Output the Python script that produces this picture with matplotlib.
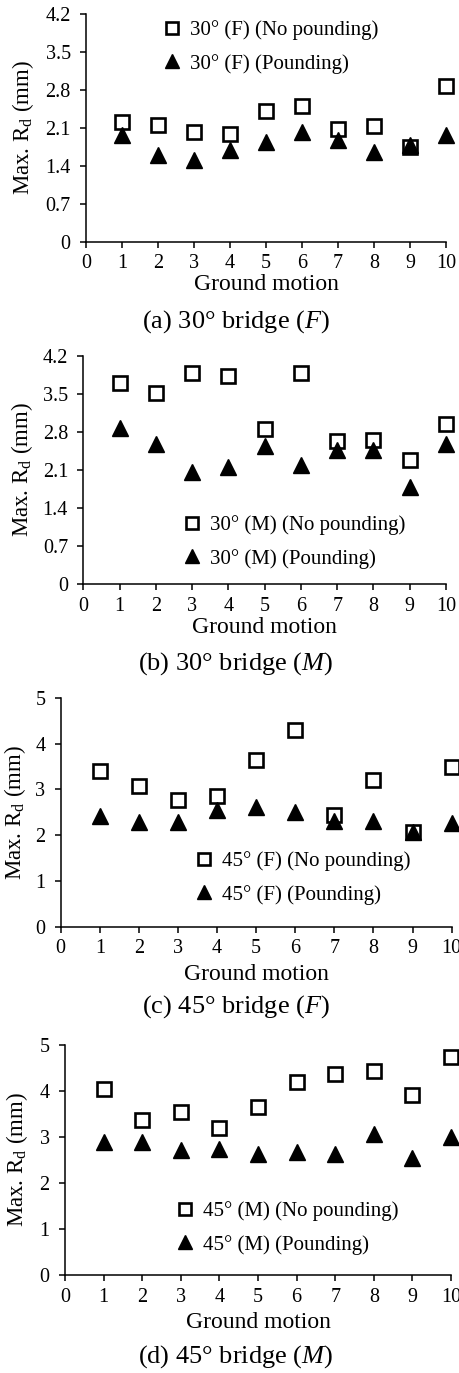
import matplotlib
matplotlib.use("Agg")
import matplotlib.pyplot as plt

plt.rcParams["font.family"] = ["Liberation Serif", "DejaVu Serif"]
plt.rcParams["mathtext.fontset"] = "custom"
plt.rcParams["mathtext.rm"] = "Liberation Serif"
plt.rcParams["mathtext.it"] = "Liberation Serif:italic"

motions = [1, 2, 3, 4, 5, 6, 7, 8, 9, 10]
xticks = [0, 1, 2, 3, 4, 5, 6, 7, 8, 9, 10]

a_nopound = [2.20, 2.15, 2.03, 1.99, 2.41, 2.50, 2.07, 2.13, 1.75, 2.88]
a_pound = [1.97, 1.60, 1.51, 1.69, 1.83, 2.03, 1.88, 1.65, 1.78, 1.97]
b_nopound = [3.70, 3.51, 3.88, 3.84, 2.85, 3.88, 2.63, 2.65, 2.28, 2.94]
b_pound = [2.87, 2.58, 2.07, 2.16, 2.54, 2.20, 2.47, 2.47, 1.79, 2.57]
c_nopound = [3.40, 3.08, 2.78, 2.86, 3.64, 4.30, 2.44, 3.21, 2.06, 3.50]
c_pound = [2.43, 2.29, 2.29, 2.55, 2.61, 2.51, 2.30, 2.30, 2.06, 2.26]
d_nopound = [4.04, 3.36, 3.55, 3.19, 3.66, 4.20, 4.36, 4.43, 3.91, 4.73]
d_pound = [2.89, 2.89, 2.71, 2.75, 2.64, 2.67, 2.62, 3.07, 2.54, 2.99]

yticks_30 = [0, 0.7, 1.4, 2.1, 2.8, 3.5, 4.2]
ylabels_30 = ["0", "0.7", "1.4", "2.1", "2.8", "3.5", "4.2"]
yticks_45 = [0, 1, 2, 3, 4, 5]
ylabels_45 = ["0", "1", "2", "3", "4", "5"]

W, H = 460, 1373
fig = plt.figure(figsize=(W / 100, H / 100), dpi=100)

# panel layout in pixels: x0, x10, ybottom, ytop, legend handle-left, legend mid-y, ylabel x, xlabel y, caption y
panels = [
    dict(box=(86, 446, 241.7, 14), ny=a_nopound, p=a_pound, yt=yticks_30, yl=ylabels_30,
         leg=(164, 47), name="30° (F)", cap="(a) 30° bridge ($\\mathit{F}$)", ylx=23, xly=285, capy=322),
    dict(box=(83.3, 446, 584, 356), ny=b_nopound, p=b_pound, yt=yticks_30, yl=ylabels_30,
         leg=(184, 542), name="30° (M)", cap="(b) 30° bridge ($\\mathit{M}$)", ylx=22, xly=627, capy=664),
    dict(box=(60.7, 451.7, 926.7, 698), ny=c_nopound, p=c_pound, yt=yticks_45, yl=ylabels_45,
         leg=(196, 878), name="45° (F)", cap="(c) 45° bridge ($\\mathit{F}$)", ylx=15, xly=975, capy=1007),
    dict(box=(65, 451, 1275, 1045), ny=d_nopound, p=d_pound, yt=yticks_45, yl=ylabels_45,
         leg=(177, 1228), name="45° (M)", cap="(d) 45° bridge ($\\mathit{M}$)", ylx=17, xly=1323, capy=1357),
]

for pn in panels:
    x0, x1, yb, ytp = pn["box"]
    ax = fig.add_axes([x0 / W, 1 - yb / H, (x1 - x0) / W, (yb - ytp) / H])
    ax.plot(motions, pn["ny"], linestyle="none", marker="s", markersize=10.5,
            markerfacecolor="white", markeredgecolor="black", markeredgewidth=1.9,
            clip_on=False, label=pn["name"] + " (No pounding)")
    ax.plot(motions, pn["p"], linestyle="none", marker="^", markersize=12,
            color="black", clip_on=False, label=pn["name"] + " (Pounding)")
    ax.set_xlim(0, 10)
    ax.set_ylim(pn["yt"][0], pn["yt"][-1])
    ax.set_xticks(xticks)
    ax.set_yticks(pn["yt"])
    ax.set_yticklabels(pn["yl"])
    for s in ["top", "right"]:
        ax.spines[s].set_visible(False)
    for s in ["left", "bottom"]:
        ax.spines[s].set_linewidth(1.1)
    ax.tick_params(direction="out", length=4, width=1.1, labelsize=14.5, pad=5)
    ax.tick_params(axis="y", pad=7)

    ax.set_ylabel("Max. R$_{\\mathregular{d}}$ (mm)", fontsize=16.5)
    ax.yaxis.set_label_coords((pn["ylx"] - x0) / (x1 - x0), 0.5)
    ax.yaxis.label.set_va("center")
    ax.set_xlabel("Ground motion", fontsize=17)
    ax.xaxis.set_label_coords(0.5, (yb - pn["xly"]) / (yb - ytp))
    ax.xaxis.label.set_va("center")

    lx, ly = pn["leg"]
    ax.legend(loc="center left", bbox_to_anchor=(lx / W, 1 - ly / H),
              bbox_transform=fig.transFigure, frameon=False, fontsize=15,
              markerscale=0.8, handlelength=0.8, handletextpad=0.45,
              labelspacing=0.65, borderpad=0, borderaxespad=0)

    fig.text(236 / W, 1 - pn["capy"] / H, pn["cap"], fontsize=19, ha="center", va="center")

fig.savefig("out.png", dpi=100)
